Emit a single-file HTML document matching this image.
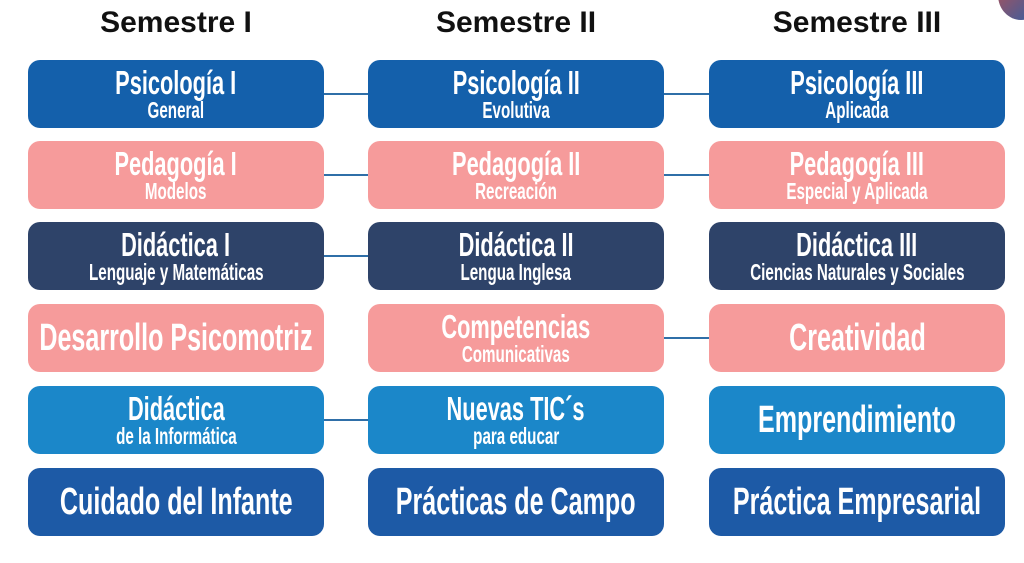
<!DOCTYPE html>
<html><head><meta charset="utf-8"><style>
body{margin:0;width:1024px;height:563px;background:#fff;position:relative;overflow:hidden;font-family:"Liberation Sans",sans-serif}
.h{position:absolute;top:6px;width:296px;text-align:center;font-weight:bold;font-size:30px;color:#111}
.b{position:absolute;width:296px;height:68px;border-radius:12px;color:#fff;display:flex;flex-direction:column;align-items:center;justify-content:center;font-weight:bold;line-height:1}
.b span{display:block;transform:scaleX(0.66);white-space:nowrap}
.t{font-size:33px}
.s{font-size:23px;margin-top:0px}
.big{font-size:38px}
.l{position:absolute;height:2px;background:#2f6fa8}
.db{background:#1460ab}.pk{background:#f69b9b}.nv{background:#2e4369}.lb{background:#1b87c9}.mb{background:#1d5aa6}
</style></head><body>
<div style="position:absolute;right:-20px;top:-30px;width:46px;height:50px;border-radius:50%;background:linear-gradient(135deg,#c0504d,#2a5fa8)"></div>
<div class="h" style="left:28px">Semestre I</div>
<div class="h" style="left:368px">Semestre II</div>
<div class="h" style="left:709px">Semestre III</div>

<div class="l" style="left:324px;width:44px;top:93px"></div>
<div class="l" style="left:664px;width:46px;top:93px"></div>
<div class="l" style="left:324px;width:44px;top:174px"></div>
<div class="l" style="left:664px;width:46px;top:174px"></div>
<div class="l" style="left:324px;width:44px;top:255px"></div>
<div class="l" style="left:664px;width:46px;top:337px"></div>
<div class="l" style="left:324px;width:44px;top:419px"></div>

<div class="b db" style="left:28px;top:60px"><span class="t">Psicología I</span><span class="s">General</span></div>
<div class="b db" style="left:368px;top:60px"><span class="t">Psicología II</span><span class="s">Evolutiva</span></div>
<div class="b db" style="left:709px;top:60px"><span class="t">Psicología III</span><span class="s">Aplicada</span></div>

<div class="b pk" style="left:28px;top:141px"><span class="t">Pedagogía I</span><span class="s">Modelos</span></div>
<div class="b pk" style="left:368px;top:141px"><span class="t">Pedagogía II</span><span class="s">Recreación</span></div>
<div class="b pk" style="left:709px;top:141px"><span class="t">Pedagogía III</span><span class="s">Especial y Aplicada</span></div>

<div class="b nv" style="left:28px;top:222px"><span class="t">Didáctica I</span><span class="s">Lenguaje y Matemáticas</span></div>
<div class="b nv" style="left:368px;top:222px"><span class="t">Didáctica II</span><span class="s">Lengua Inglesa</span></div>
<div class="b nv" style="left:709px;top:222px"><span class="t">Didáctica III</span><span class="s">Ciencias Naturales y Sociales</span></div>

<div class="b pk" style="left:28px;top:304px"><span class="big">Desarrollo Psicomotriz</span></div>
<div class="b pk" style="left:368px;top:304px"><span class="t">Competencias</span><span class="s">Comunicativas</span></div>
<div class="b pk" style="left:709px;top:304px"><span class="big">Creatividad</span></div>

<div class="b lb" style="left:28px;top:386px"><span class="t">Didáctica</span><span class="s">de la Informática</span></div>
<div class="b lb" style="left:368px;top:386px"><span class="t">Nuevas TIC´s</span><span class="s">para educar</span></div>
<div class="b lb" style="left:709px;top:386px"><span class="big">Emprendimiento</span></div>

<div class="b mb" style="left:28px;top:468px"><span class="big">Cuidado del Infante</span></div>
<div class="b mb" style="left:368px;top:468px"><span class="big">Prácticas de Campo</span></div>
<div class="b mb" style="left:709px;top:468px"><span class="big">Práctica Empresarial</span></div>
</body></html>
